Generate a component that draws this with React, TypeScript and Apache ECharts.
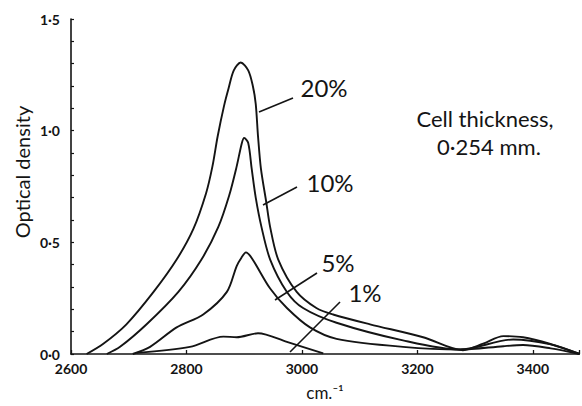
import React, { useEffect, useRef } from "react";
import * as echarts from "echarts";

// Wavenumber (cm^-1) and optical density for each concentration
const wn20 = [2627, 2656, 2696, 2743, 2783, 2812, 2834, 2845, 2854, 2865, 2873, 2882, 2894, 2907, 2915, 2920, 2924, 2929, 2938, 2945, 2959, 2991, 3025, 3054, 3118, 3210, 3279, 3314, 3349, 3383, 3429, 3481];
const od20 = [0, 0.046, 0.133, 0.278, 0.423, 0.56, 0.72, 0.84, 0.974, 1.11, 1.19, 1.27, 1.305, 1.27, 1.2, 1.12, 0.974, 0.83, 0.684, 0.568, 0.423, 0.278, 0.206, 0.177, 0.133, 0.075, 0.017, 0.046, 0.08, 0.075, 0.046, 0];

const wn10 = [2662, 2685, 2731, 2786, 2826, 2855, 2874, 2887, 2896, 2900, 2907, 2913, 2920, 2930, 2945, 2974, 3002, 3060, 3175, 3274, 3366, 3431, 3481];
const od10 = [0, 0.032, 0.133, 0.278, 0.423, 0.568, 0.71, 0.84, 0.945, 0.967, 0.945, 0.83, 0.7, 0.568, 0.423, 0.278, 0.206, 0.14, 0.061, 0.02, 0.065, 0.043, 0];

const wn5 = [2707, 2737, 2783, 2829, 2870, 2887, 2895, 2903, 2913, 2945, 2974, 3014, 3060, 3175, 3274, 3349, 3383, 3431, 3481];
const od5 = [0, 0.032, 0.119, 0.177, 0.278, 0.394, 0.43, 0.455, 0.43, 0.293, 0.206, 0.119, 0.068, 0.032, 0.02, 0.035, 0.04, 0.025, 0];

const wn1 = [2714, 2806, 2864, 2887, 2924, 2974, 3037];
const od1 = [0.005, 0.032, 0.078, 0.075, 0.093, 0.054, 0.003];

const seriesNames = ["20%", "10%", "5%", "1%"];
const xTicks = [2600, 2800, 3000, 3200, 3400];
const yTickLabels: Record<string, string> = { "0": "0·0", "0.5": "0·5", "1": "1·0", "1.5": "1·5" };

const FONT = "Lato, 'Open Sans', sans-serif";
const INK = "#141414";

function pairs(xs: number[], ys: number[]) {
  return xs.map((x, i) => [x, ys[i]]);
}

export default function App() {
  const ref = useRef<HTMLDivElement>(null);
  useEffect(() => {
    if (!ref.current) return;
    const chart = echarts.init(ref.current, undefined, { renderer: "svg" });
    const lineStyle = { color: INK, width: 1.9 };
    const mk = (name: string, xs: number[], ys: number[]) => ({
      name,
      type: "line",
      data: pairs(xs, ys),
      showSymbol: false,
      smooth: 0.3,
      lineStyle,
      silent: true,
    });
    const leader = (x1: number, y1: number, x2: number, y2: number) => ({
      type: "line",
      shape: { x1, y1, x2, y2 },
      style: { stroke: INK, lineWidth: 1.6 },
    });
    const label = (text: string, x: number, y: number, size = 24) => ({
      type: "text",
      x,
      y,
      style: {
        text,
        fill: INK,
        font: `${size}px ${FONT}`,
        textAlign: "center",
        textVerticalAlign: "middle",
      },
    });
    chart.setOption({
      animation: false,
      backgroundColor: "#ffffff",
      grid: { left: 71, right: 3, top: 19, bottom: 42 },
      xAxis: {
        type: "value",
        min: 2600,
        max: 3480,
        interval: 200,
        name: "cm.⁻¹",
        nameLocation: "middle",
        nameGap: 30,
        nameTextStyle: { color: INK, fontSize: 17, fontFamily: FONT },
        axisLine: { show: true, lineStyle: { color: INK, width: 1.6 } },
        axisTick: { show: true, inside: true, length: 4, lineStyle: { color: INK, width: 1.3 } },
        axisLabel: {
          color: INK,
          fontSize: 14,
          fontWeight: "bold",
          fontFamily: FONT,
          margin: 7,
          formatter: (v: number) => (xTicks.indexOf(v) >= 0 ? String(v) : ""),
        },
        splitLine: { show: false },
      },
      yAxis: {
        type: "value",
        min: 0,
        max: 1.5,
        interval: 0.5,
        axisLine: { show: true, lineStyle: { color: INK, width: 1.6 } },
        axisTick: { show: true, inside: true, length: 3, lineStyle: { color: INK, width: 1.2 } },
        minorTick: { show: true, splitNumber: 5, length: 3, lineStyle: { color: INK, width: 1.2 } },
        axisLabel: {
          color: INK,
          fontSize: 14,
          fontWeight: "bold",
          fontFamily: FONT,
          margin: 11,
          formatter: (v: number) => yTickLabels[String(v)] ?? "",
        },
        splitLine: { show: false },
        minorSplitLine: { show: false },
      },
      series: [
        mk(seriesNames[0], wn20, od20),
        mk(seriesNames[1], wn10, od10),
        mk(seriesNames[2], wn5, od5),
        mk(seriesNames[3], wn1, od1),
      ],
      graphic: [
        leader(259, 112, 293, 98),
        leader(263, 205, 297, 187),
        leader(275, 300, 317, 273),
        leader(290, 352, 340, 302),
        label(seriesNames[0], 324, 87),
        label(seriesNames[1], 330, 182),
        label(seriesNames[2], 338, 262),
        label(seriesNames[3], 365, 292),
        label("Cell thickness,", 485, 118, 22),
        label("0·254 mm.", 489, 146, 22),
        {
          type: "text",
          x: 22,
          y: 172,
          rotation: Math.PI / 2,
          style: {
            text: "Optical density",
            fill: INK,
            font: `20px ${FONT}`,
            textAlign: "center",
            textVerticalAlign: "middle",
          },
        },
      ],
    });
    return () => chart.dispose();
  }, []);
  return (
    <div
      ref={ref}
      style={{ position: "fixed", left: 0, top: 0, width: 582, height: 406, background: "#fff" }}
    />
  );
}
